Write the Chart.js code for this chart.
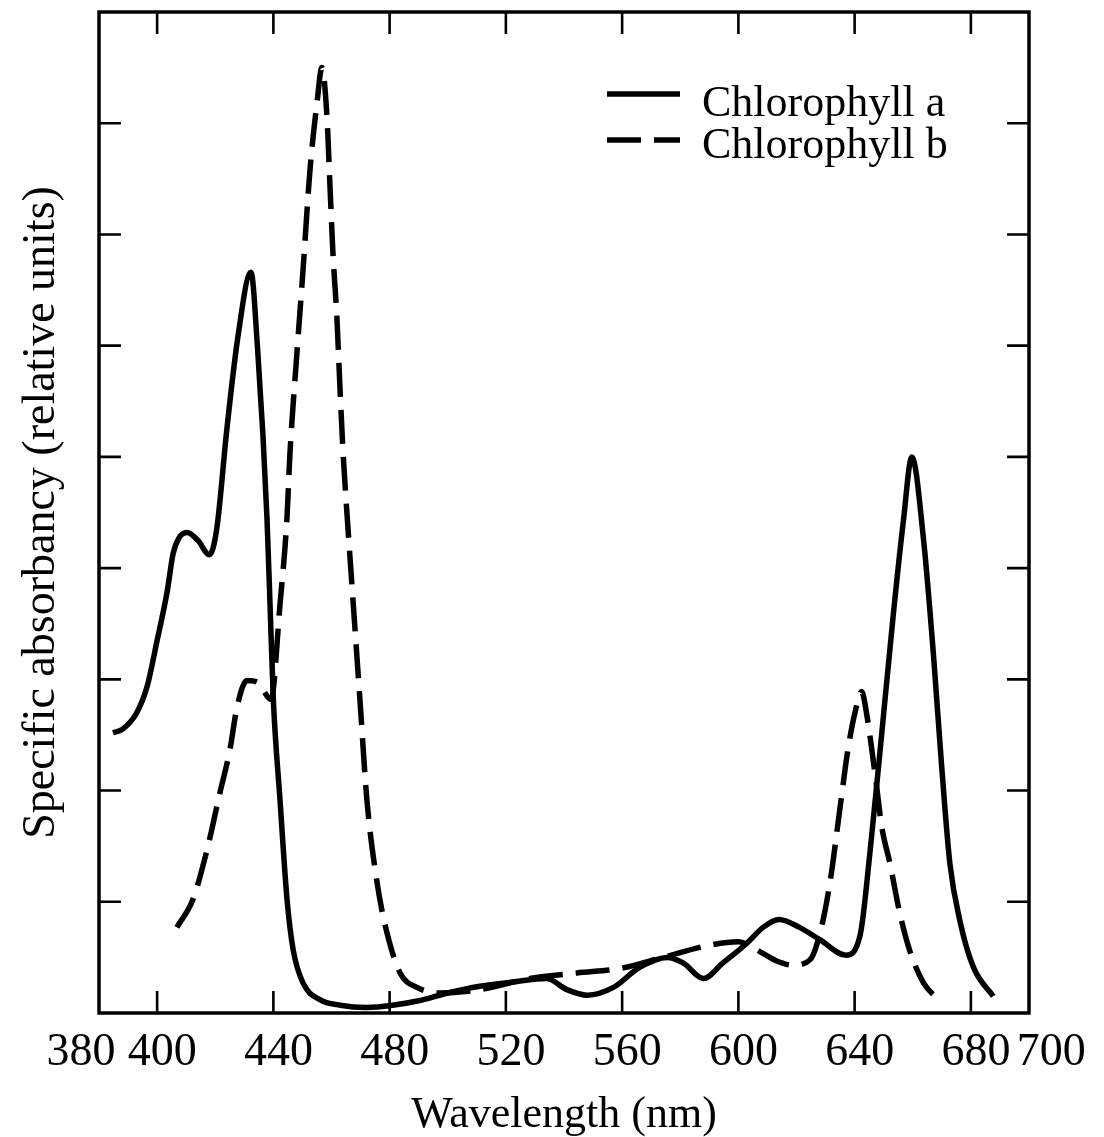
<!DOCTYPE html>
<html>
<head>
<meta charset="utf-8">
<script src="https://cdn.jsdelivr.net/npm/chart.js@4/dist/chart.umd.min.js"></script>
<style>
html,body{margin:0;padding:0;background:#ffffff;}
canvas{display:block;}
</style>
</head>
<body>
<canvas id="chart" width="1104" height="1137"></canvas>
<script>
// ---- Data ----
const seriesNames = ['Chlorophyll a', 'Chlorophyll b'];

const wavelengthA = [384.8, 388, 393, 396.5, 400, 403.4, 405.5, 407.5, 410.3, 414, 418, 420.5, 424, 427.8, 432.3, 434.5, 436.4, 437.8, 438.8, 440, 442.3, 444.7, 446.8, 450.2, 456, 463, 472, 481, 490, 500, 511, 522.5, 534, 541, 548, 557, 566, 575.5, 581, 588, 594.7, 603, 608.5, 614, 621, 628, 637, 641.9, 645.3, 648.8, 653.3, 656.8, 659.7, 663.7, 667.1, 670, 672.8, 676.3, 680.9, 687.7];
const absorbA     = [2.52, 2.55, 2.70, 2.93, 3.35, 3.78, 4.13, 4.27, 4.32, 4.25, 4.12, 4.35, 5.25, 6.08, 6.66, 6.00, 5.20, 4.45, 3.71, 2.81, 1.91, 1.02, 0.57, 0.27, 0.12, 0.07, 0.05, 0.07, 0.11, 0.18, 0.24, 0.28, 0.31, 0.21, 0.16, 0.23, 0.41, 0.50, 0.45, 0.31, 0.45, 0.63, 0.77, 0.84, 0.77, 0.66, 0.52, 0.70, 1.45, 2.37, 3.58, 4.43, 5.00, 4.26, 3.23, 2.20, 1.34, 0.82, 0.41, 0.15];

const wavelengthB = [406.8, 412.3, 417.2, 421.6, 425, 427.5, 430.9, 434.7, 439.2, 442.3, 444.7, 445.7, 448.1, 450.2, 452.6, 455, 456.7, 458.5, 459.5, 460.5, 461.9, 462.9, 464, 465.3, 467.4, 469.8, 472.2, 475.7, 479.1, 483.6, 489.4, 497.3, 511, 528.3, 544.5, 559.3, 574, 590.3, 600, 607.5, 613, 618.8, 624.7, 628.1, 631.5, 635, 637.7, 640.2, 642.4, 644.2, 645.9, 647.6, 649.3, 652.2, 655.6, 659.1, 663.7, 668.8];
const absorbB     = [0.77, 1.02, 1.47, 1.98, 2.36, 2.75, 2.99, 2.97, 2.82, 3.68, 4.46, 5.03, 5.93, 6.68, 7.58, 8.18, 8.50, 8.03, 7.42, 6.83, 6.23, 5.63, 5.03, 4.50, 3.71, 2.81, 1.91, 1.17, 0.72, 0.36, 0.23, 0.18, 0.21, 0.31, 0.36, 0.40, 0.50, 0.61, 0.64, 0.55, 0.47, 0.43, 0.48, 0.72, 1.17, 1.85, 2.37, 2.71, 2.89, 2.68, 2.37, 2.03, 1.68, 1.34, 0.89, 0.55, 0.27, 0.12];

const xTickValues = [380, 400, 440, 480, 520, 560, 600, 640, 680, 700];
const xTickLabels = ['380    ', '400', '440', '480', '520', '560', '600', '640', '680', '   700'];
const xMin = 380, xMax = 700;
const yMin = 0, yMax = 9, yStep = 1;
const xTitle = 'Wavelength (nm)';
const yTitle = 'Specific absorbancy (relative units)';

// ---- Helpers ----
const toPoints = (xs, ys) => xs.map((v, i) => ({ x: v, y: ys[i] }));
const SERIF = '"Liberation Serif", "Times New Roman", serif';

// Frame with inward tick marks on all four sides
const framePlugin = {
  id: 'frameTicks',
  afterDatasetsDraw(chart) {
    const { ctx, chartArea: a, scales } = chart;
    const x = scales.x, y = scales.y;
    const tl = 22;
    ctx.save();
    ctx.strokeStyle = '#000';
    ctx.lineWidth = 2.6;
    ctx.beginPath();
    x.ticks.forEach(t => {
      if (t.value <= x.min || t.value >= x.max) return;
      const px = x.getPixelForValue(t.value);
      ctx.moveTo(px, a.bottom); ctx.lineTo(px, a.bottom - tl);
      ctx.moveTo(px, a.top); ctx.lineTo(px, a.top + tl);
    });
    y.ticks.forEach(t => {
      if (t.value <= y.min || t.value >= y.max) return;
      const py = y.getPixelForValue(t.value);
      ctx.moveTo(a.left, py); ctx.lineTo(a.left + tl, py);
      ctx.moveTo(a.right, py); ctx.lineTo(a.right - tl, py);
    });
    ctx.stroke();
    ctx.lineWidth = 3.5;
    ctx.strokeRect(a.left, a.top, a.right - a.left, a.bottom - a.top);
    ctx.restore();
  }
};

// Legend drawn inside the plot area, top right
const innerLegend = {
  id: 'innerLegend',
  afterDatasetsDraw(chart) {
    const { ctx, chartArea: a } = chart;
    ctx.save();
    ctx.font = '44px ' + SERIF;
    ctx.fillStyle = '#000';
    ctx.textBaseline = 'alphabetic';
    ctx.textAlign = 'left';
    chart.data.datasets.forEach((ds, i) => {
      const rowY = a.top + 82 + i * 46;
      ctx.strokeStyle = ds.borderColor;
      ctx.lineWidth = ds.borderWidth;
      ctx.setLineDash(ds.borderDash || []);
      ctx.beginPath();
      ctx.moveTo(a.right - 422, rowY);
      ctx.lineTo(a.right - 349, rowY);
      ctx.stroke();
      ctx.setLineDash([]);
      ctx.fillText(ds.label, a.right - 327, rowY + 22 - i * 4);
    });
    ctx.restore();
  }
};

new Chart(document.getElementById('chart').getContext('2d'), {
  type: 'line',
  data: {
    datasets: [
      {
        label: seriesNames[0],
        data: toPoints(wavelengthA, absorbA),
        borderColor: '#000',
        borderWidth: 5.5,
        pointRadius: 0,
        fill: false,
        cubicInterpolationMode: 'monotone'
      },
      {
        label: seriesNames[1],
        data: toPoints(wavelengthB, absorbB),
        borderColor: '#000',
        borderWidth: 5.5,
        borderDash: [34, 13],
        pointRadius: 0,
        fill: false,
        cubicInterpolationMode: 'monotone'
      }
    ]
  },
  options: {
    responsive: false,
    animation: false,
    devicePixelRatio: 1,
    layout: { padding: { left: 0, right: 75, top: 12, bottom: 0 } },
    plugins: { legend: { display: false }, tooltip: { enabled: false } },
    scales: {
      x: {
        type: 'linear',
        min: xMin,
        max: xMax,
        afterBuildTicks: (scale) => { scale.ticks = xTickValues.map(v => ({ value: v })); },
        ticks: {
          autoSkip: false,
          maxRotation: 0,
          minRotation: 0,
          padding: 17,
          labelOffset: 5,
          color: '#000',
          font: { family: SERIF, size: 46, lineHeight: 1 },
          callback: (value) => {
            const k = xTickValues.indexOf(value);
            return k >= 0 ? xTickLabels[k] : '';
          }
        },
        grid: { display: false, drawTicks: false },
        border: { display: false },
        title: {
          display: true,
          text: xTitle,
          color: '#000',
          font: { family: SERIF, size: 44, lineHeight: 1 },
          padding: { top: 0, bottom: 0 }
        }
      },
      y: {
        type: 'linear',
        min: yMin,
        max: yMax,
        ticks: { display: false, stepSize: yStep },
        grid: { display: false, drawTicks: false },
        border: { display: false },
        title: {
          display: true,
          text: yTitle,
          color: '#000',
          font: { family: SERIF, size: 46, lineHeight: 1 },
          padding: { top: 19, bottom: 34 }
        }
      }
    }
  },
  plugins: [framePlugin, innerLegend]
});
</script>
</body>
</html>
